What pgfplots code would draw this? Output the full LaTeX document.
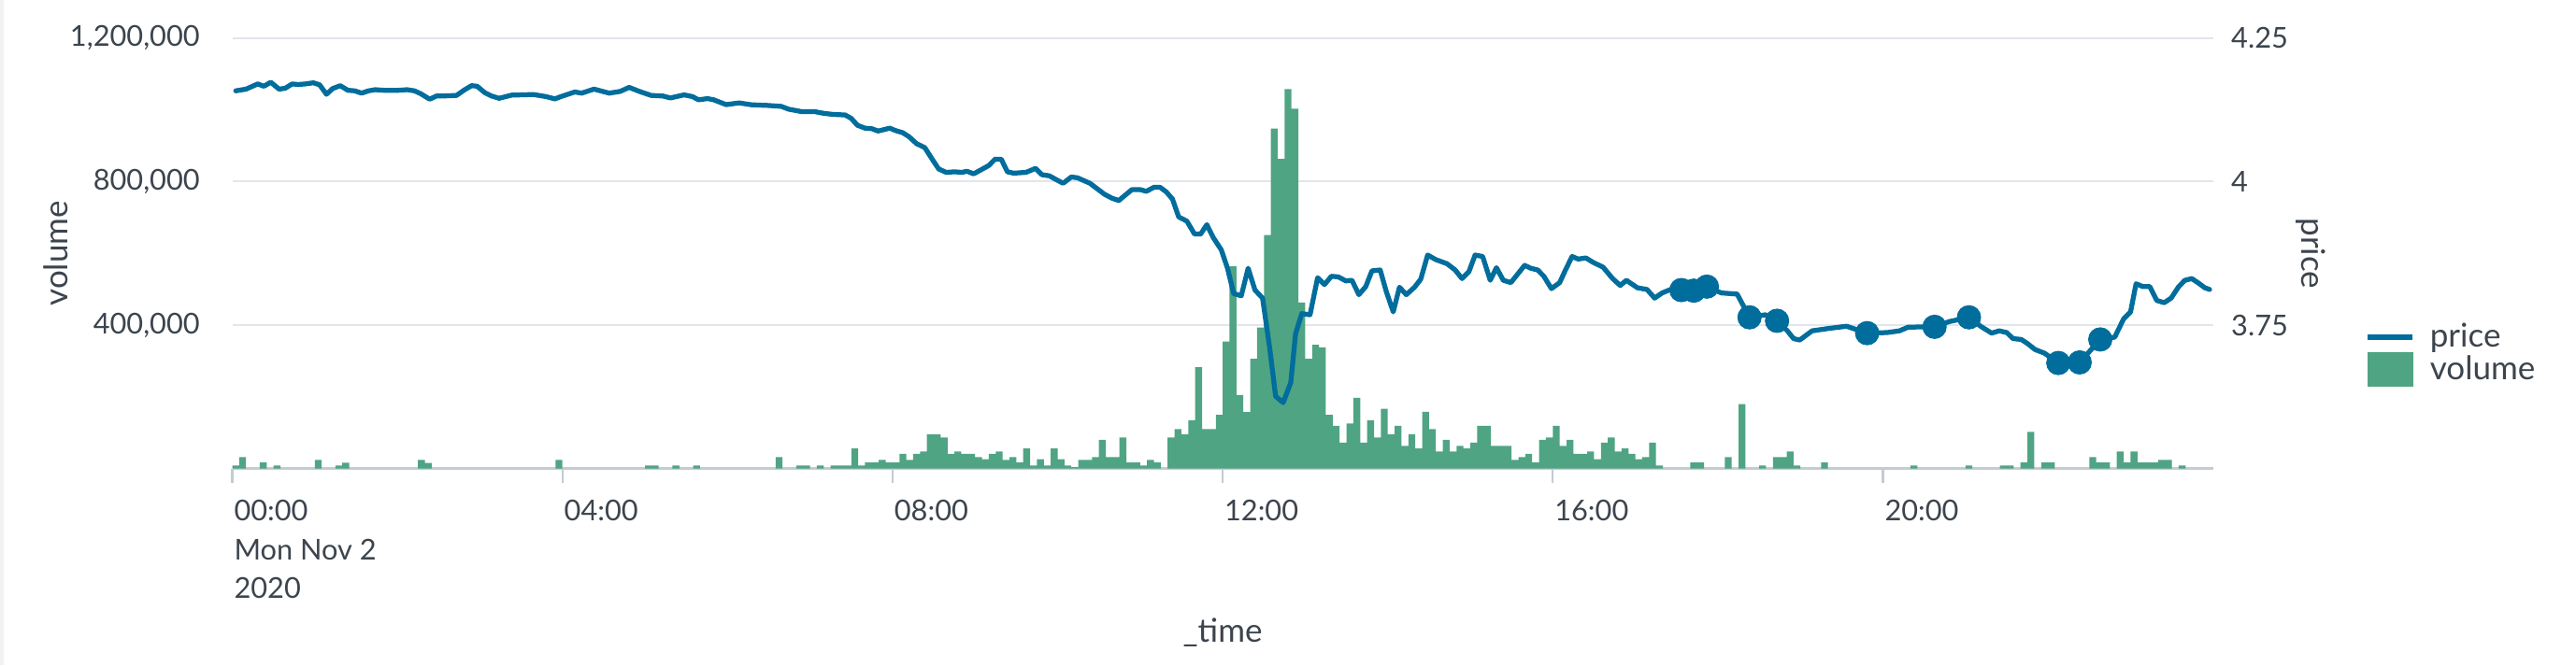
\documentclass[border=0pt]{standalone}
\usepackage{fontspec}
\setmainfont{Lato}
\usepackage{pgfplots}
\usepackage{pgfplotstable}
\pgfplotsset{compat=1.18}
\definecolor{splblue}{HTML}{006D9C}
\definecolor{splgreen}{HTML}{4FA484}
\definecolor{txt}{HTML}{3C444D}
\definecolor{gridc}{HTML}{E1E6EB}
\definecolor{axc}{HTML}{C3CBD4}

\pgfplotstableread{
t vol
2.5 8700
7.5 32200
22.5 17400
32.5 8700
62.5 24400
77.5 8700
82.5 16500
137.5 24400
142.5 15700
237.5 24400
302.5 8700
307.5 8700
322.5 8700
337.5 8700
397.5 32200
412.5 8700
417.5 8700
427.5 8700
437.5 8700
442.5 8700
447.5 8700
452.5 56500
457.5 8700
462.5 17400
467.5 17400
472.5 24400
477.5 17400
482.5 17400
487.5 40900
492.5 24400
497.5 40900
502.5 47800
507.5 95700
512.5 95700
517.5 87000
522.5 40900
527.5 47800
532.5 40900
537.5 40900
542.5 32200
547.5 26100
552.5 40900
557.5 47800
562.5 24400
567.5 32200
572.5 17400
577.5 56500
582.5 8700
587.5 26100
592.5 8700
597.5 56500
602.5 26100
607.5 8700
612.5 4300
617.5 24400
622.5 24400
627.5 32200
632.5 80000
637.5 32200
642.5 32200
647.5 87000
652.5 17400
657.5 17400
662.5 8700
667.5 24400
672.5 17400
682.5 87000
687.5 110500
692.5 95700
697.5 134800
702.5 282700
707.5 110500
712.5 110500
717.5 149600
722.5 354000
727.5 564000
732.5 205000
737.5 158000
742.5 306000
747.5 393000
752.5 651000
757.5 948000
762.5 863000
767.5 1058000
772.5 1003000
777.5 463000
782.5 306000
787.5 345000
792.5 338000
797.5 149600
802.5 119200
807.5 72200
812.5 126100
817.5 197400
822.5 72200
827.5 134800
832.5 87000
837.5 167000
842.5 95700
847.5 119200
852.5 63500
857.5 95700
862.5 56500
867.5 158300
872.5 110500
877.5 47800
882.5 80000
887.5 47800
892.5 63500
897.5 56500
902.5 72200
907.5 119200
912.5 119200
917.5 63500
922.5 63500
927.5 63500
932.5 24400
937.5 32200
942.5 40900
947.5 17400
952.5 80000
957.5 87000
962.5 119200
967.5 63500
972.5 80000
977.5 40900
982.5 40900
987.5 47800
992.5 26100
997.5 72200
1002.5 87000
1007.5 47800
1012.5 56500
1017.5 40900
1022.5 26100
1027.5 32200
1032.5 72200
1037.5 8700
1062.5 17400
1067.5 17400
1087.5 32200
1097.5 180000
1112.5 8700
1122.5 32200
1127.5 32200
1132.5 47800
1137.5 8700
1157.5 17400
1222.5 8700
1262.5 8700
1287.5 8700
1292.5 8700
1302.5 17400
1307.5 102600
1317.5 17400
1322.5 17400
1352.5 32200
1357.5 17400
1362.5 17400
1372.5 47800
1377.5 17400
1382.5 47800
1387.5 17400
1392.5 17400
1397.5 17400
1402.5 24400
1407.5 24400
1417.5 8700
}\voltable

\pgfplotstableread{
t price
2.5 4.158
10 4.161
18.5 4.170
23 4.166
28 4.173
34 4.161
38.5 4.1625
43.5 4.170
48 4.169
53 4.170
59 4.172
63.5 4.1685
68.5 4.152
73 4.162
78.5 4.167
84 4.159
89 4.158
94 4.154
99 4.158
104 4.160
110 4.159
115 4.159
121 4.159
127 4.160
132.5 4.158
137 4.153
143.5 4.1435
148.5 4.149
153 4.149
163 4.150
169 4.160
174 4.167
178 4.166
183.5 4.155
188.5 4.149
194 4.145
203 4.1505
219 4.1516
228 4.148
234.5 4.144
239 4.148
249 4.156
254 4.154
263 4.161
274 4.154
282 4.157
288.5 4.164
296 4.157
304.5 4.150
313 4.149
318.5 4.1456
328.5 4.151
334.5 4.148
339 4.1424
345.5 4.1445
350 4.1424
359 4.134
368.5 4.137
377.5 4.1337
389 4.1326
399 4.131
404.5 4.126
413.5 4.122
423 4.122
429.5 4.119
436.5 4.117
445.5 4.116
450 4.110
454.5 4.098
460 4.093
465 4.092
469.5 4.088
478 4.093
482 4.089
487.5 4.085
492 4.078
497.5 4.066
503.5 4.059
508 4.042
513.5 4.022
519 4.016
525 4.017
530.5 4.016
534 4.018
539 4.0135
545.5 4.022
550 4.028
554.5 4.039
559 4.039
563.5 4.017
568 4.0146
577 4.016
584 4.023
588.5 4.012
594 4.010
598.5 4.004
604 3.997
610 4.008
614.5 4.0065
623.5 3.997
634 3.978
639.5 3.971
644.5 3.967
654 3.986
660 3.986
664.5 3.983
670 3.990
674.5 3.990
679 3.982
683.5 3.9695
688 3.9385
694 3.931
699.5 3.9086
704 3.9086
708.5 3.925
713 3.903
719 3.881
723.5 3.849
728 3.805
733.5 3.801
738.5 3.849
743.5 3.811
749 3.797
754 3.713
758.5 3.626
764 3.615
769.5 3.650
773 3.735
777.5 3.770
783.5 3.768
789 3.8325
794 3.8206
799 3.835
804 3.834
809.5 3.827
814 3.828
819 3.803
824 3.817
828.5 3.8445
834.5 3.846
839 3.808
844 3.773
848.5 3.816
853.5 3.803
859.5 3.816
864 3.830
869 3.872
875 3.864
883 3.857
889 3.846
894 3.831
899 3.843
903.5 3.872
909 3.8695
914.5 3.828
919 3.850
924 3.828
929.5 3.824
939.5 3.854
944 3.849
949 3.846
953.5 3.835
959 3.8135
965 3.824
969 3.845
974 3.8695
978.5 3.865
984 3.867
989.5 3.859
996.5 3.851
1003.5 3.831
1009 3.819
1013.5 3.828
1021.5 3.815
1028.5 3.812
1034 3.797
1039.5 3.806
1045.5 3.812
1053.5 3.811
1062.5 3.810
1072 3.817
1082.5 3.806
1094 3.804
1103 3.7635
1114.5 3.768
1123 3.7575
1130.5 3.740
1135 3.7265
1139.5 3.724
1148.5 3.740
1160 3.744
1173.5 3.748
1188.5 3.736
1203 3.737
1212 3.740
1218.5 3.7466
1223.5 3.7466
1237.5 3.747
1248 3.756
1262.5 3.7635
1271 3.748
1279 3.736
1284.5 3.740
1290 3.737
1294.5 3.7265
1300.5 3.725
1305 3.718
1310.5 3.7075
1317.5 3.701
1327.5 3.684
1335.5 3.686
1343 3.685
1358 3.725
1368.5 3.729
1375 3.761
1380 3.773
1384 3.822
1389 3.817
1394 3.817
1399 3.793
1404.5 3.789
1409.5 3.797
1415 3.817
1419.5 3.828
1424.5 3.831
1429.5 3.823
1434 3.815
1437.5 3.812
}\pricetable

\pgfplotstableread{
t price
1053.5 3.811
1062.5 3.810
1072 3.817
1103 3.7635
1123 3.7575
1188.5 3.736
1237.5 3.747
1262.5 3.7635
1327.5 3.684
1343 3.685
1358 3.725
}\marktable

\begin{document}
\begin{tikzpicture}
\useasboundingbox (0,0) rectangle (1102.4pt,284.8pt);
\fill[black!5] (0,0) rectangle (1.6pt,284.8pt);
\begin{axis}[
  at={(99.4pt,84.12pt)}, anchor=south west,
  scale only axis, width=847.68pt, height=184.4pt,
  xmin=0, xmax=1440, ymin=0, ymax=1200000,
  axis x line*=bottom, axis y line*=left,
  x axis line style={draw=axc, line width=1.2pt, -},
  y axis line style={draw=none},
  xtick={0,240,480,720,960,1200},
  xticklabels={{00:00\\Mon Nov 2\\2020},04:00,08:00,12:00,16:00,20:00},
  ytick={400000,800000,1200000},
  yticklabels={{400,000},{800,000},{1,200,000}},
  scaled y ticks=false,
  xtick style={draw=axc, line width=0.9pt},
  ytick style={draw=none},
  major tick length=6.3pt, tick align=outside,
  ymajorgrids, grid style={draw=gridc, line width=0.9pt},
  xticklabel style={font=\fontsize{12.3}{16.6}\selectfont, text=txt, align=left, anchor=north west, inner sep=0pt, yshift=-7pt, xshift=0.6pt},
  yticklabel style={font=\fontsize{12.3}{14}\selectfont, text=txt, anchor=east, inner sep=0pt, xshift=-7.4pt},
  xlabel={\_time}, ylabel={volume},
  label style={font=\fontsize{14}{16}\selectfont, text=txt},
  xlabel style={at={(axis description cs:0.5,-0.3796)}, anchor=center},
  ylabel style={at={(axis description cs:-0.0889,0.5)}, anchor=center},
]
\addplot[ybar, bar width=5, bar shift=0pt, fill=splgreen, draw=none] table[x=t, y=vol] {\voltable};
\end{axis}
\begin{axis}[
  at={(99.4pt,84.12pt)}, anchor=south west,
  scale only axis, width=847.68pt, height=184.4pt,
  xmin=0, xmax=1440, ymin=3.5, ymax=4.25,
  axis x line=none, axis y line*=right,
  y axis line style={draw=none}, ytick style={draw=none},
  major tick length=0pt,
  ytick={3.75,4,4.25}, yticklabels={3.75,4,4.25},
  yticklabel style={font=\fontsize{12.3}{14}\selectfont, text=txt, anchor=west, inner sep=0pt, xshift=7.6pt},
  ylabel={price},
  ylabel style={font=\fontsize{14}{16}\selectfont, text=txt, at={(axis description cs:1.0494,0.5)}, anchor=center, rotate=180},
  legend style={at={(axis description cs:1.0766,0.338)}, anchor=north west, draw=none, fill=none, inner sep=0pt, font=\fontsize{14}{16}\selectfont, text=txt, nodes={inner sep=0pt, text depth=0.15em}, row sep=0.7pt, column sep=6.4pt},
  legend cell align=left,
]
\addlegendimage{legend image code/.code={\draw[splblue, line width=2.1pt] (0pt,0pt) -- (19.2pt,0pt);}}
\addlegendentry{price}
\addlegendimage{legend image code/.code={\fill[splgreen] (0pt,-7.15pt) rectangle (19.2pt,7.15pt);}}
\addlegendentry{volume}
\addplot[color=splblue, line width=2.1pt, line join=round, line cap=round, no markers] table[x=t, y=price] {\pricetable};
\addplot[only marks, mark=*, mark size=5pt, color=splblue, forget plot] table[x=t, y=price] {\marktable};
\end{axis}
\end{tikzpicture}
\end{document}
